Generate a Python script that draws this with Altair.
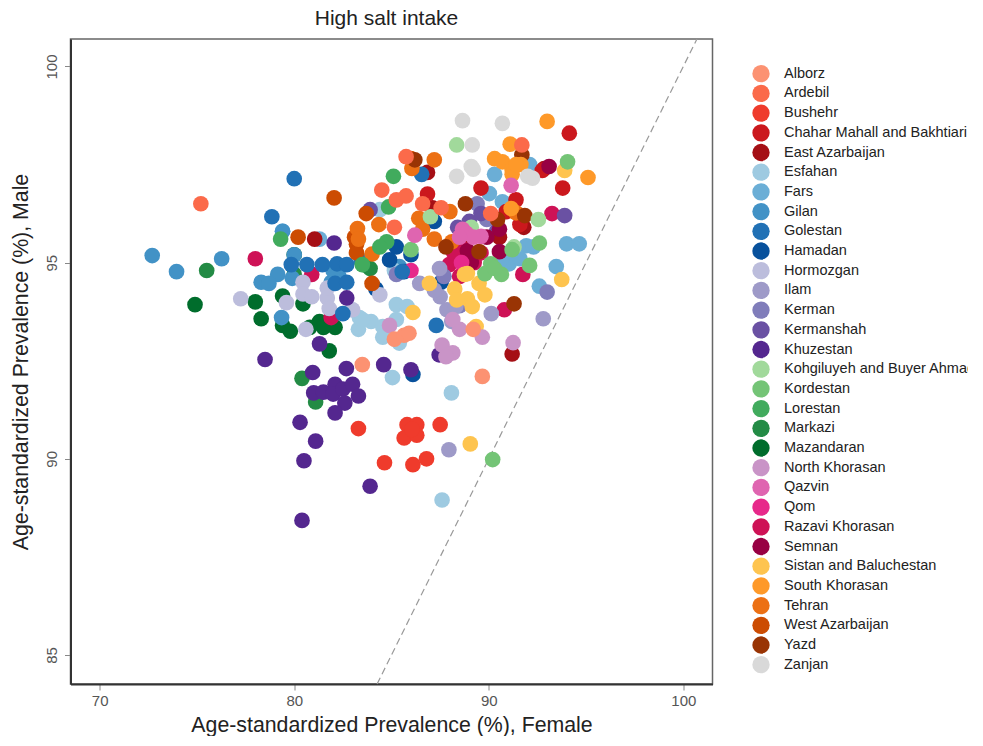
import altair as alt
import pandas as pd

title_text = "High salt intake"
x_title = "Age-standardized Prevalence (%), Female"
y_title = "Age-standardized Prevalence (%), Male"
x_ticks = [70, 80, 90, 100]
y_ticks = [85, 90, 95, 100]
diag = [84.26, 100.7]

alborz = [(83.5,92.4),(89.67,92.1),(85.15,93.05),(85.65,93.15),(85.9,93.2),(89.2,93.3)]
ardebil = [(75.2,96.5),(85.75,97.7),(84.5,96.85),(85.25,96.6),(85.75,96.7),(86.6,96.5),(87.55,96.4),(85.15,95.9),(91.7,98.0),(90.1,96.25)]
bushehr = [(83.3,90.77),(84.64,89.9),(86.1,89.85),(86.8,90.0),(87.5,90.87),(85.8,90.87),(86.3,90.87),(85.65,90.53),(86.3,90.6),(86.05,90.75)]
chahar = [(94.14,98.3),(89.6,96.9),(93.8,96.9),(91.4,96.6),(91.6,95.97),(86.85,96.75),(92.75,97.35),(90.9,96.3)]
east_az = [(81.05,95.6),(86.85,97.3),(91.2,92.67),(89.0,95.7),(90.55,95.65),(92.85,97.4),(91.8,95.9),(87.1,96.4)]
esfahan = [(85.05,92.07),(88.08,91.68),(87.6,88.95),(83.3,93.3),(83.95,93.5),(84.55,93.37),(85.25,93.93),(85.8,93.88),(85.25,93.55),(83.35,93.6),(84.55,93.1),(85.4,92.95),(82.95,93.8),(83.5,93.55),(84.4,96.35),(85.15,94.8)]
fars = [(94.0,95.48),(94.65,95.48),(93.47,94.9),(92.6,94.4),(91.93,95.43),(92.3,95.4),(91.05,94.97),(90.65,95.1),(90.3,97.25),(90.03,96.76),(90.7,96.55),(92.1,97.5),(81.3,95.6),(79.4,95.8),(91.6,95.1)]
gilan = [(72.7,95.18),(73.95,94.77),(76.27,95.1),(79.4,95.8),(79.15,94.7),(78.3,94.5),(78.7,94.47),(79.9,94.6),(80.0,95.2),(79.35,93.6),(81.9,94.5),(82.3,94.65),(85.4,94.9),(82.0,94.8)]
golestan = [(80.0,97.14),(78.85,96.17),(79.85,94.95),(80.65,94.95),(81.45,94.95),(82.2,94.97),(82.7,94.95),(82.1,94.47),(82.7,94.5),(82.5,93.7),(83.45,95.05),(85.55,94.77),(86.55,97.25),(87.3,93.4)]
hamadan = [(86.1,92.15),(85.25,95.4),(86.0,95.2),(84.2,94.33),(85.65,94.77),(87.55,94.5),(87.2,96.05),(84.9,95.07)]
hormozgan = [(77.25,94.08),(79.6,93.98),(80.6,93.3),(80.45,94.5),(80.45,94.2),(80.9,94.13),(81.7,94.1),(81.8,93.83),(83.0,93.8),(84.4,94.18),(81.7,94.35)]
ilam = [(92.8,93.57),(90.13,93.7),(87.95,90.23),(86.45,94.47),(87.5,94.13),(87.85,93.8),(88.3,93.88),(87.47,94.85),(88.1,93.5),(87.2,94.3)]
kerman = [(93.0,94.25),(89.4,96.5),(85.25,94.7),(87.7,94.65),(88.5,93.9),(89.9,96.1)]
kermanshah = [(93.9,96.2),(83.9,96.35),(89.0,96.05),(89.6,96.25),(90.4,95.8),(88.4,95.9)]
khuzestan = [(80.4,88.43),(83.9,89.3),(80.5,89.95),(81.1,90.45),(80.3,90.93),(78.5,92.53),(81.3,92.93),(80.95,92.2),(82.68,92.3),(84.6,92.4),(86.0,92.27),(87.45,92.65),(81.0,91.68),(81.5,91.7),(82.1,91.9),(82.0,91.65),(82.5,91.78),(83.0,91.9),(83.3,91.6),(82.6,91.42),(82.1,91.17),(82.05,95.5),(82.7,94.1)]
kohgiluyeh = [(88.35,98.0),(92.55,96.1),(87.0,96.17),(91.3,95.4),(89.1,95.9)]
kordestan = [(90.2,89.98),(94.05,97.57),(92.6,95.5),(92.1,94.93),(91.2,95.33),(90.1,94.97),(89.8,94.72),(90.65,94.7),(86.0,95.33),(90.3,94.85)]
lorestan = [(85.1,97.2),(79.3,95.6),(84.85,96.42),(84.75,95.53),(84.4,95.4),(83.5,94.95)]
markazi = [(75.5,94.8),(80.4,92.05),(81.1,91.45),(83.6,94.95),(80.0,94.7),(83.9,94.85)]
mazandaran = [(74.9,93.93),(78.0,94.0),(78.3,93.57),(79.4,93.4),(79.8,93.25),(79.4,94.15),(80.0,95.2),(80.45,93.95),(81.3,93.5),(82.1,93.35),(81.8,92.75),(81.5,93.35),(80.8,93.35)]
n_khorasan = [(91.25,92.96),(89.67,93.1),(87.6,92.9),(88.15,92.7),(87.8,92.6),(88.5,93.3),(88.15,93.55),(84.9,93.4)]
qazvin = [(91.15,96.97),(86.2,95.7),(88.65,95.85),(88.85,95.75),(89.6,95.67),(89.2,95.65),(88.5,95.65)]
qom = [(86.0,94.8),(88.6,95.0)]
razavi = [(78.0,95.1),(81.9,93.6),(80.9,94.7),(91.75,94.7),(90.8,93.8),(93.25,96.25),(87.97,94.95),(88.5,94.65),(89.25,95.0),(88.7,95.4),(89.6,95.25),(88.2,95.25)]
semnan = [(93.1,97.45),(89.1,95.0),(90.55,95.28),(90.55,95.85),(89.9,95.65),(88.9,95.3)]
sistan = [(89.05,90.38),(86.1,93.73),(93.75,94.57),(93.9,97.35),(88.9,94.72),(89.5,94.47),(89.8,94.18),(88.9,94.08),(89.15,93.88),(89.35,93.37),(86.95,94.47),(88.25,94.33),(88.75,94.7),(88.35,94.05)]
s_khorasan = [(93.0,98.6),(95.1,97.17),(91.1,98.02),(90.3,97.65),(90.7,97.57),(91.2,97.37),(91.65,97.5),(91.2,97.25),(91.15,96.38),(91.4,97.5)]
tehran = [(87.2,97.62),(86.05,97.4),(83.25,95.87),(84.35,95.97),(86.4,96.13),(87.2,95.6),(88.1,95.53),(84.0,95.22),(91.4,96.27),(88.0,96.3),(86.6,95.85),(83.3,95.6)]
west_az = [(82.05,96.65),(80.2,95.65),(83.2,95.47),(83.1,95.65),(84.0,94.47),(86.0,97.65),(83.7,96.25),(83.2,95.25)]
yazd = [(91.3,93.95),(88.8,96.5),(90.45,96.1),(91.85,96.2),(91.7,97.75),(86.2,97.62),(89.5,95.28),(87.8,95.4)]
zanjan = [(88.65,98.62),(90.7,98.55),(89.15,98.0),(88.35,97.2),(89.1,97.45),(89.2,97.38),(92.25,97.15),(92.0,97.2)]

provinces = ["Alborz","Ardebil","Bushehr","Chahar Mahall and Bakhtiari","East Azarbaijan","Esfahan","Fars","Gilan","Golestan","Hamadan","Hormozgan","Ilam","Kerman","Kermanshah","Khuzestan","Kohgiluyeh and Buyer Ahmad","Kordestan","Lorestan","Markazi","Mazandaran","North Khorasan","Qazvin","Qom","Razavi Khorasan","Semnan","Sistan and Baluchestan","South Khorasan","Tehran","West Azarbaijan","Yazd","Zanjan"]
colors = ["#FC9272","#FB6A4A","#EF3B2C","#CB181D","#A50F15","#9ECAE1","#6BAED6","#4292C6","#2171B5","#08519C","#BCBDDC","#9E9AC8","#807DBA","#6A51A3","#54278F","#A1D99B","#74C476","#41AB5D","#238B45","#006D2C","#C994C7","#DF65B0","#E7298A","#CE1256","#980043","#FEC44F","#FE9929","#EC7014","#CC4C02","#993404","#D9D9D9"]
series = [alborz,ardebil,bushehr,chahar,east_az,esfahan,fars,gilan,golestan,hamadan,hormozgan,ilam,kerman,kermanshah,khuzestan,kohgiluyeh,kordestan,lorestan,markazi,mazandaran,n_khorasan,qazvin,qom,razavi,semnan,sistan,s_khorasan,tehran,west_az,yazd,zanjan]

# back-to-front painting order of the provinces
draw_order = ["Fars","Mazandaran","Markazi","Gilan","Razavi Khorasan","Esfahan","Hamadan","Kerman","Ilam","Kermanshah","East Azarbaijan","Chahar Mahall and Bakhtiari","Semnan","Qom","Hormozgan","Khuzestan","Golestan","West Azarbaijan","Tehran","Lorestan","Yazd","Sistan and Baluchestan","Kohgiluyeh and Buyer Ahmad","Kordestan","South Khorasan","Zanjan","North Khorasan","Qazvin","Ardebil","Bushehr","Alborz"]

lookup = dict(zip(provinces, series))
rows = [{"province": p, "female": a, "male": b} for p in draw_order for a, b in lookup[p]]
df = pd.DataFrame(rows)

x_scale = alt.Scale(domain=[68.5, 101.5], nice=False, zero=False)
y_scale = alt.Scale(domain=[84.26, 100.7], nice=False, zero=False)

line = alt.Chart(pd.DataFrame({"female": diag, "male": diag})).mark_line(
    color="#999999", strokeWidth=1.2, strokeDash=[7, 4]
).encode(x=alt.X("female:Q", scale=x_scale), y=alt.Y("male:Q", scale=y_scale))

axis_style = dict(grid=False, tickColor="#888888", tickSize=6, tickWidth=1,
                  labelColor="#555555", labelFontSize=15, labelFont="Liberation Sans",
                  titleFont="Liberation Sans", titleFontSize=21.3, titleFontWeight="normal",
                  titleColor="#222222", domain=True, domainColor="#333333", domainWidth=2)

points = alt.Chart(df).mark_circle(size=245, opacity=1).encode(
    x=alt.X("female:Q", scale=x_scale, title=x_title,
            axis=alt.Axis(values=x_ticks, titlePadding=6, labelPadding=3, **axis_style)),
    y=alt.Y("male:Q", scale=y_scale, title=y_title,
            axis=alt.Axis(values=y_ticks, labelAngle=-90, labelAlign="center",
                          labelBaseline="bottom", labelPadding=5, titlePadding=13, **axis_style)),
    color=alt.Color("province:N", scale=alt.Scale(domain=provinces, range=colors),
                    legend=alt.Legend(title=None, orient="none", legendX=681.5, legendY=25.7,
                                      symbolType="circle", symbolSize=300, symbolStrokeWidth=0,
                                      labelFont="Liberation Sans", labelFontSize=14.5,
                                      labelColor="#222222", labelOffset=14, rowPadding=1.7,
                                      labelLimit=260, values=provinces, symbolOpacity=1,
                                      symbolLimit=0, padding=0)),
)

chart = (line + points).properties(
    width=642, height=645,
    padding={"left": 2.5, "top": 0, "right": -8.5, "bottom": 0},
    title=alt.TitleParams(title_text, font="Liberation Sans", fontSize=21, fontWeight="normal",
                          color="#222222", dx=-5, offset=7.3),
    background="white",
).configure_view(stroke="#666666", strokeWidth=1.5)

chart.save("out.html", embed_options={"renderer": "svg", "actions": False})
